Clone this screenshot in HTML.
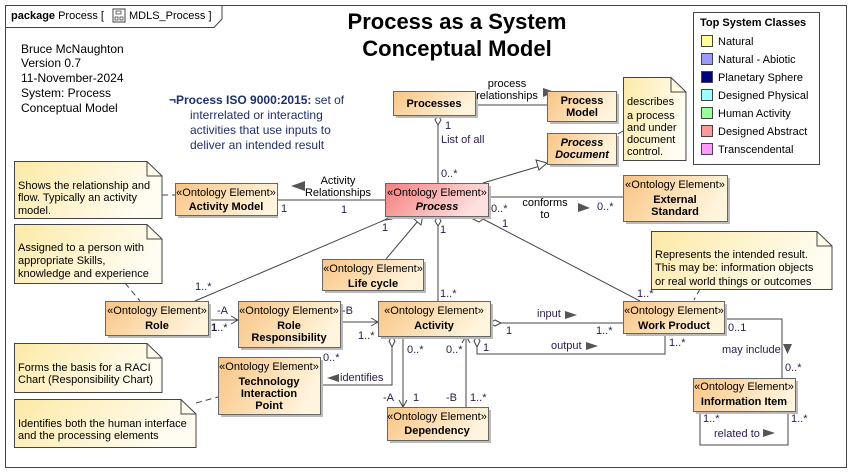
<!DOCTYPE html>
<html><head><meta charset="utf-8"><style>
html,body{margin:0;padding:0;background:#fff}
svg{display:block;font-family:"Liberation Sans",Arial,sans-serif}
.t{font-size:11px;fill:#000}
.s{font-size:11px}
.b{font-size:11px;font-weight:bold}
.m{font-size:11px;fill:#2a1a4a}
.ln{stroke:#444;stroke-width:1;fill:none}
.dash{stroke:#444;stroke-width:1;fill:none;stroke-dasharray:6,4}
</style></head><body>
<svg width="851" height="473" viewBox="0 0 851 473" xmlns="http://www.w3.org/2000/svg">
<defs>
<linearGradient id="og" x1="0" y1="0" x2="1" y2="0.3"><stop offset="0" stop-color="#f9c483"/><stop offset="1" stop-color="#fff4dc"/></linearGradient>
<linearGradient id="pg" x1="0" y1="0" x2="1" y2="0.3"><stop offset="0" stop-color="#f47e7e"/><stop offset="1" stop-color="#ffe0e0"/></linearGradient>
<linearGradient id="ng" x1="0" y1="0" x2="1" y2="0.3"><stop offset="0" stop-color="#fde9a6"/><stop offset="1" stop-color="#fffdf2"/></linearGradient>
</defs>
<rect x="0" y="0" width="851" height="473" fill="#fff"/>
<rect x="5.5" y="5.5" width="841" height="462" fill="none" stroke="#444"/>
<path d="M5.5 27.5 H214 L222 19 V5.5" fill="none" stroke="#444"/>
<text x="11" y="19" class="t" style="font-size:11px"><tspan font-weight="bold">package</tspan> Process [ <tspan dx="22">MDLS_Process ]</tspan></text>
<rect x="113" y="9" width="12" height="13" fill="none" stroke="#444"/>
<rect x="116" y="11" width="5" height="3" fill="none" stroke="#444" stroke-width=".8"/>
<rect x="115" y="17" width="3" height="3" fill="none" stroke="#444" stroke-width=".8"/>
<rect x="120" y="17" width="3" height="3" fill="none" stroke="#444" stroke-width=".8"/>
<text x="457" y="29" text-anchor="middle" style="font-size:22px;font-weight:bold">Process as a System</text>
<text x="457" y="56" text-anchor="middle" style="font-size:22px;font-weight:bold">Conceptual Model</text>
<g class="t" style="font-size:12px"><text x="21" y="53">Bruce McNaughton</text><text x="21" y="67">Version 0.7</text><text x="21" y="82">11-November-2024</text><text x="21" y="97">System:  Process</text><text x="21" y="112">Conceptual Model</text></g>
<g style="font-size:12px;fill:#1f2e6e"><text x="169" y="104"><tspan font-weight="bold">¬Process ISO 9000:2015:</tspan>  set of</text><text x="190" y="119">interrelated or interacting</text><text x="190" y="134">activities that use inputs to</text><text x="190" y="149">deliver an intended result</text></g>
<rect x="693.5" y="12.5" width="126" height="152" fill="#fff" stroke="#444"/>
<text x="700" y="26" class="b">Top System Classes</text>
<g stroke="#444" stroke-width="1">
<rect x="701.5" y="35.5" width="11" height="11" fill="#ffff99"/>
<rect x="701.5" y="53.5" width="11" height="11" fill="#9999ff"/>
<rect x="701.5" y="71.5" width="11" height="11" fill="#000080"/>
<rect x="701.5" y="89.5" width="11" height="11" fill="#99ffff"/>
<rect x="701.5" y="107.5" width="11" height="11" fill="#99ff99"/>
<rect x="701.5" y="125.5" width="11" height="11" fill="#ff9999"/>
<rect x="701.5" y="143.5" width="11" height="11" fill="#ff99ff"/>
</g>
<g class="s"><text x="718" y="45">Natural</text><text x="718" y="63">Natural - Abiotic</text><text x="718" y="81">Planetary Sphere</text><text x="718" y="99">Designed Physical</text><text x="718" y="117">Human Activity</text><text x="718" y="135">Designed Abstract</text><text x="718" y="153">Transcendental</text></g>

<g class="ln">
<line x1="475" y1="105" x2="547" y2="105"/>
<line x1="438" y1="125" x2="438" y2="183"/>
<line x1="483" y1="183" x2="540" y2="166"/>
<line x1="488" y1="197" x2="623" y2="197"/>
<line x1="278" y1="200" x2="385" y2="200"/>
<line x1="195" y1="301" x2="387" y2="219"/>
<line x1="386" y1="259" x2="418" y2="221"/>
<line x1="438" y1="226" x2="438" y2="301"/>
<line x1="483" y1="219" x2="640" y2="301"/>
<line x1="208" y1="320" x2="238" y2="320"/>
<line x1="340" y1="322" x2="378" y2="322"/>
<line x1="501" y1="323" x2="623" y2="323"/>
<polyline points="477,347 477,354 665,354 665,333"/>
<polyline points="724,319 782,319 782,378"/>
<polyline points="700,411 700,445 788,445 788,411"/>
<polyline points="392,347 392,385 320,385"/>
<line x1="403" y1="336" x2="403" y2="407"/>
<line x1="466" y1="336" x2="466" y2="407"/>
</g>
<g fill="#fff" stroke="#444">
<polygon points="438,115 441,120 438,125 435,120"/>
<polygon points="438,216 441,221 438,226 435,221"/>
<polygon points="395,216 392,219 385,220 389,217"/>
<polygon points="474,215 483,219 479,222 471,218"/>
<polygon points="490,323 495,320 501,323 495,326"/>
<polygon points="477,336 480,341 477,347 474,341"/>
<polygon points="392,336 395,341 392,347 389,341"/>
</g>
<g fill="#fff" stroke="#444">
<polygon points="547,163 536,160 539,170"/>
<polygon points="423,215 414,219 421,225"/>
</g>
<g class="ln">
<polyline points="231,316 238,320 231,324"/>
<polyline points="371,318 378,322 371,326"/>
<polyline points="399,400 403,407 407,400"/>
<polyline points="462,343 466,336 470,343"/>
</g>
<g fill="#555">
<polygon points="543,88 555,92 543,97"/>
<polygon points="305,181 291,186 305,191"/>
<polygon points="578,203 590,208 578,212"/>
<polygon points="565,311 577,315 565,319"/>
<polygon points="586,342 598,346 586,350"/>
<polygon points="783,344 792,344 787.5,354"/>
<polygon points="763,429 775,433 763,437"/>
<polygon points="339,374 327,378 339,382"/>
</g>
<g class="dash">
<line x1="162" y1="195" x2="175" y2="195"/>
<line x1="125" y1="283" x2="140" y2="301"/>
<line x1="623" y1="131" x2="616" y2="135"/>
<line x1="700" y1="289" x2="694" y2="300"/>
<line x1="196" y1="403" x2="218" y2="397"/>
</g>

<g stroke="#444" fill="url(#ng)">
<path d="M14.5 161.5 H147 L162 176 V218.5 H14.5 Z"/>
<path d="M14.5 224.5 H147 L162 239 V283.5 H14.5 Z"/>
<path d="M14.5 343.5 H147 L162 358 V392.5 H14.5 Z"/>
<path d="M14.5 399.5 H181 L196 414 V447.5 H14.5 Z"/>
<path d="M623.5 77.5 H671 L686 92 V160.5 H623.5 Z"/>
<path d="M651.5 231.5 H817 L832 246 V289.5 H651.5 Z"/>
</g>
<g fill="none" stroke="#444">
<path d="M147 161.5 V176 H162"/><path d="M147 224.5 V239 H162"/><path d="M147 343.5 V358 H162"/><path d="M181 399.5 V414 H196"/><path d="M671 77.5 V92 H686"/><path d="M817 231.5 V246 H832"/>
</g>
<g class="s">
<text x="18" y="189">Shows the relationship and</text><text x="18" y="201">flow.  Typically an activity</text><text x="18" y="214">model.</text>
<text x="18" y="251">Assigned to a person with</text><text x="18" y="264">appropriate Skills,</text><text x="18" y="277">knowledge and experience</text>
<text x="18" y="371">Forms the basis for a RACI</text><text x="18" y="383">Chart (Responsibility Chart)</text>
<text x="18" y="427">Identifies both the human interface</text><text x="18" y="439">and the processing elements</text>
<text x="627" y="105">describes</text><text x="627" y="119">a process</text><text x="627" y="131">and under</text><text x="627" y="143">document</text><text x="627" y="155">control.</text>
<text x="655" y="258">Represents the intended result.</text><text x="655" y="271">This may be: information objects</text><text x="655" y="285">or real world things or outcomes</text>
</g>

<g stroke="#666">
<rect x="396" y="94" width="82" height="24" fill="#bbb" stroke="none"/>
<rect x="393.5" y="91.5" width="82" height="24" fill="url(#og)"/>
<rect x="550" y="94" width="69" height="30" fill="#bbb" stroke="none"/>
<rect x="547.5" y="91.5" width="69" height="30" fill="url(#og)"/>
<rect x="550" y="136" width="69" height="31" fill="#bbb" stroke="none"/>
<rect x="547.5" y="133.5" width="69" height="31" fill="url(#og)"/>
<rect x="388" y="186" width="103" height="33" fill="#bbb" stroke="none"/>
<rect x="385.5" y="183.5" width="103" height="33" fill="url(#pg)"/>
<rect x="626" y="178" width="104" height="46" fill="#bbb" stroke="none"/>
<rect x="623.5" y="175.5" width="104" height="46" fill="url(#og)"/>
<rect x="178" y="186" width="100" height="32" fill="#bbb" stroke="none"/>
<rect x="175.5" y="183.5" width="102" height="32" fill="url(#og)"/>
<rect x="325" y="262" width="101" height="31" fill="#bbb" stroke="none"/>
<rect x="322.5" y="259.5" width="101" height="31" fill="url(#og)"/>
<rect x="108" y="304" width="103" height="34" fill="#bbb" stroke="none"/>
<rect x="105.5" y="301.5" width="103" height="34" fill="url(#og)"/>
<rect x="241" y="304" width="102" height="46" fill="#bbb" stroke="none"/>
<rect x="238.5" y="301.5" width="102" height="46" fill="url(#og)"/>
<rect x="381" y="304" width="112" height="35" fill="#bbb" stroke="none"/>
<rect x="378.5" y="301.5" width="112" height="35" fill="url(#og)"/>
<rect x="626" y="304" width="101" height="32" fill="#bbb" stroke="none"/>
<rect x="623.5" y="301.5" width="101" height="32" fill="url(#og)"/>
<rect x="221" y="360" width="102" height="57" fill="#bbb" stroke="none"/>
<rect x="218.5" y="357.5" width="102" height="57" fill="url(#og)"/>
<rect x="390" y="410" width="101" height="33" fill="#bbb" stroke="none"/>
<rect x="387.5" y="407.5" width="101" height="33" fill="url(#og)"/>
<rect x="696" y="381" width="102" height="33" fill="#bbb" stroke="none"/>
<rect x="693.5" y="378.5" width="102" height="33" fill="url(#og)"/>
</g>
<g text-anchor="middle">
<text x="434" y="107" class="b">Processes</text>
<text x="582" y="104" class="b">Process</text><text x="582" y="116" class="b">Model</text>
<text x="582" y="146" class="b" font-style="italic">Process</text><text x="582" y="158" class="b" font-style="italic">Document</text>
<text x="437" y="196" class="s">«Ontology Element»</text><text x="437" y="210" class="b" font-style="italic">Process</text>
<text x="675" y="188" class="s">«Ontology Element»</text><text x="675" y="203" class="b">External</text><text x="675" y="215" class="b">Standard</text>
<text x="226" y="196" class="s">«Ontology Element»</text><text x="226" y="210" class="b">Activity Model</text>
<text x="373" y="272" class="s">«Ontology Element»</text><text x="373" y="287" class="b">Life cycle</text>
<text x="157" y="314" class="s">«Ontology Element»</text><text x="157" y="329" class="b">Role</text>
<text x="289" y="314" class="s">«Ontology Element»</text><text x="289" y="329" class="b">Role</text><text x="289" y="341" class="b">Responsibility</text>
<text x="434" y="314" class="s">«Ontology Element»</text><text x="434" y="329" class="b">Activity</text>
<text x="674" y="314" class="s">«Ontology Element»</text><text x="674" y="329" class="b">Work Product</text>
<text x="269" y="370" class="s">«Ontology Element»</text><text x="269" y="385" class="b">Technology</text><text x="269" y="397" class="b">Interaction</text><text x="269" y="409" class="b">Point</text>
<text x="437" y="420" class="s">«Ontology Element»</text><text x="437" y="434" class="b">Dependency</text>
<text x="744" y="390" class="s">«Ontology Element»</text><text x="744" y="405" class="b">Information Item</text>
</g>

<g class="s" text-anchor="middle">
<text x="507" y="87">process</text><text x="507" y="99">relationships</text>
<text x="338" y="184">Activity</text><text x="338" y="196">Relationships</text>
<text x="545" y="206">conforms</text><text x="545" y="218">to</text>
</g>
<g class="m">
<text x="445" y="129">1</text><text x="441" y="143" class="s">List of all</text><text x="441" y="177">0..*</text>
<text x="491" y="212">0..*</text><text x="597" y="210">0..*</text><text x="502" y="227">1</text>
<text x="281" y="212">1</text><text x="341" y="213">1</text>
<text x="382" y="231">1</text><text x="440" y="233">1</text><text x="440" y="297">1..*</text>
<text x="195" y="290">1..*</text><text x="637" y="297">1..*</text>
<text x="217" y="314" class="s">-A</text><text x="211" y="331"><tspan font-weight="bold">1</tspan>..*</text>
<text x="342" y="314" class="s">-B</text><text x="358" y="339">1..*</text>
<text x="537" y="317" class="s">input</text><text x="506" y="334">1</text><text x="596" y="334">1..*</text>
<text x="483" y="351">1</text><text x="551" y="349" class="s">output</text><text x="669" y="346">1..*</text>
<text x="728" y="331">0..1</text><text x="722" y="353" class="s">may include</text><text x="785" y="371">0..*</text>
<text x="703" y="422">1..*</text><text x="791" y="422">1..*</text><text x="714" y="437" class="s">related to</text>
<text x="323" y="361">0..*</text><text x="340" y="381" class="s">identifies</text>
<text x="407" y="353">0..*</text><text x="446" y="353">0..*</text>
<text x="383" y="401" class="s">-A</text><text x="413" y="401">1</text><text x="446" y="401" class="s">-B</text><text x="470" y="401">1..*</text>
</g>
</svg>
</body></html>
